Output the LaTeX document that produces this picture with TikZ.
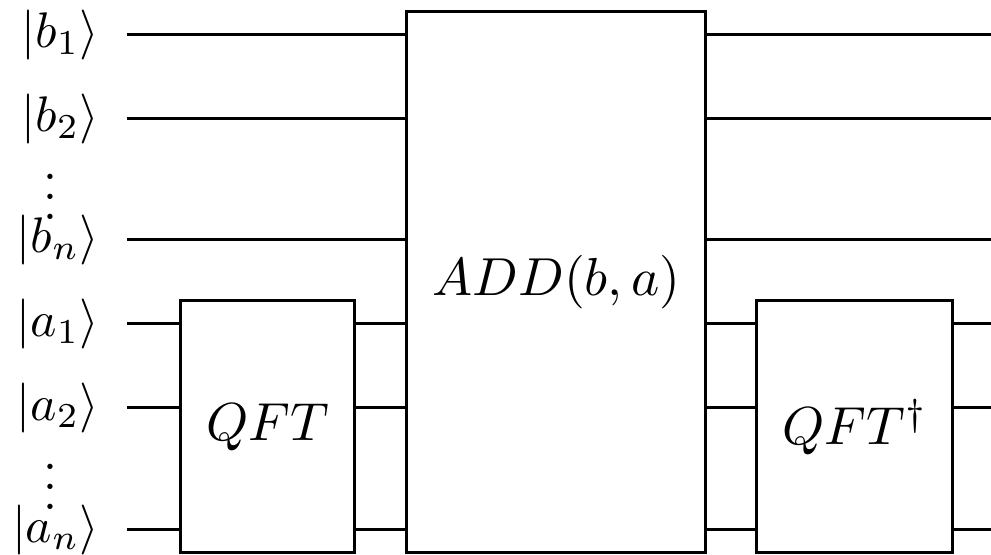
\documentclass[tikz,border=0pt]{standalone}
\newcommand{\gtxt}[1]{\scalebox{1.07}{$#1$}}
\begin{document}
\begin{tikzpicture}[x=0.2pt,y=-0.2pt,
  wire/.style={line width=0.6pt},
  gate/.style={draw,line width=0.6pt,fill=white,inner sep=0pt},
  ket/.style={anchor=east,inner sep=0pt},
  vd/.style={inner sep=0pt}]
\useasboundingbox (0,0) rectangle (991,555);
\clip (0,0) rectangle (991,555);
% gates
\node[gate, minimum width=59.8pt, minimum height=108.2pt] (add) at (556.5,282.5) {\gtxt{ADD(b,a)}};
\node[gate, minimum width=34.8pt, minimum height=50.4pt] (qft) at (268,427) {\gtxt{QFT}};
\node[gate, minimum width=39.2pt, minimum height=50.4pt] (iqft) at (855,427) {\gtxt{QFT^\dagger}};
% labels
\node[ket] (lb1) at (100,35) {$|b_1\rangle$};
\node[ket] (lb2) at (100,119) {$|b_2\rangle$};
\node[vd] (vdb) at (50,182) {$\vdots$};
\node[ket] (lbn) at (100,240) {$|b_n\rangle$};
\node[ket] (la1) at (100,324) {$|a_1\rangle$};
\node[ket] (la2) at (100,408) {$|a_2\rangle$};
\node[vd] (vda) at (50,472) {$\vdots$};
\node[ket] (lan) at (100,530) {$|a_n\rangle$};
% wire ends
\foreach \n/\y in {b1/35,b2/119,bn/240,a1/324,a2/408,an/530}{
  \coordinate (\n L) at (127,\y);
  \coordinate (\n R) at (991,\y);
}
\foreach \n in {b1,b2,bn}{
  \draw[wire] (\n L) -- (add.west |- \n L);
  \draw[wire] (add.east |- \n R) -- (\n R);
}
\foreach \n in {a1,a2,an}{
  \draw[wire] (\n L) -- (qft.west |- \n L);
  \draw[wire] (qft.east |- \n L) -- (add.west |- \n L);
  \draw[wire] (add.east |- \n L) -- (iqft.west |- \n L);
  \draw[wire] (iqft.east |- \n R) -- (\n R);
}
\end{tikzpicture}
\end{document}
